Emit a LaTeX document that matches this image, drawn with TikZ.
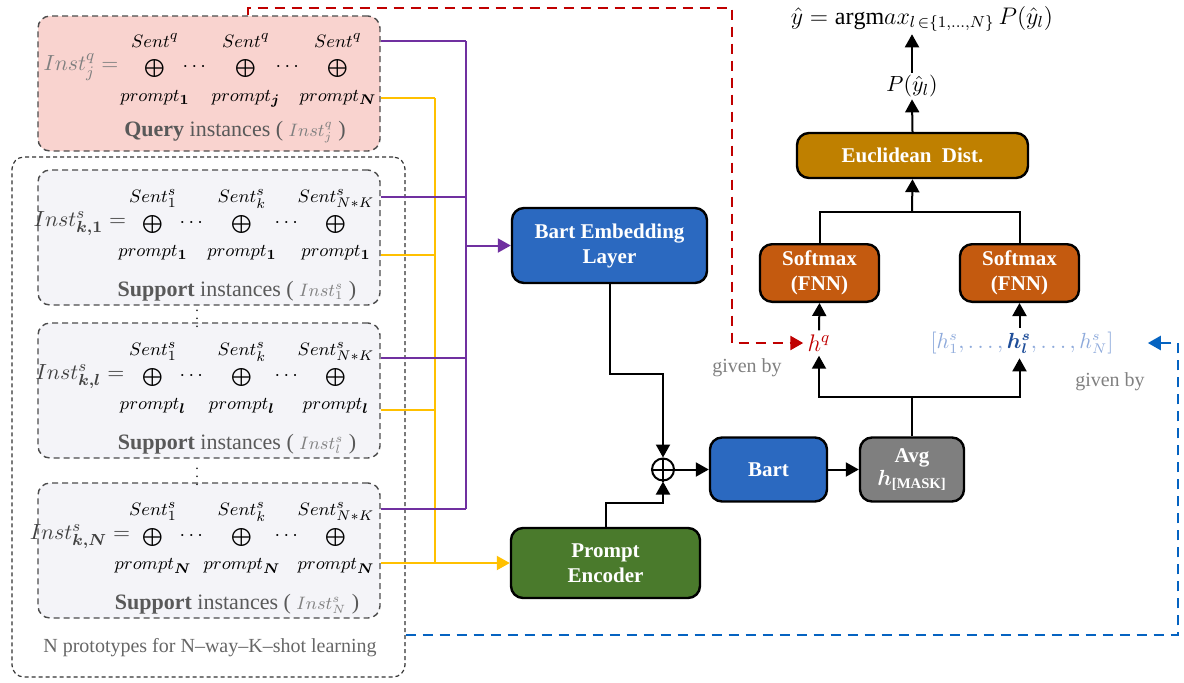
\documentclass[tikz,border=0pt]{standalone}
\usepackage{amsmath}
\usepackage{bm}
\usepackage{fontspec}
\setmainfont{Liberation Serif}
\usetikzlibrary{arrows.meta,calc}
\definecolor{qpink}{HTML}{F9D3CF}
\definecolor{spale}{HTML}{F4F4F8}
\definecolor{bartblue}{HTML}{2B69C0}
\definecolor{pgreen}{HTML}{4A7A2C}
\definecolor{smorange}{HTML}{C45A0F}
\definecolor{eugold}{HTML}{BF8000}
\definecolor{avggray}{HTML}{7F7F7F}
\definecolor{lpurple}{HTML}{7030A0}
\definecolor{lyellow}{HTML}{FFC000}
\definecolor{dred}{HTML}{C00000}
\definecolor{dblue}{HTML}{0563C1}
\definecolor{hslight}{HTML}{8EAADB}
\definecolor{hsdark}{HTML}{1F4E99}
\definecolor{txtgray}{HTML}{808080}
\newcommand{\sentcat}[2]{\begin{tabular}{@{}c@{}}$#1$\\[2pt]$\bigoplus$\\[3pt]$#2$\end{tabular}}
\newcommand{\capinst}[1]{{\color{txtgray}\fontsize{9}{9}\selectfont$#1$}}
\tikzset{
  blk/.style={draw=black, line width=1.2pt, rounded corners=6pt, text=white,
    font=\fontsize{10.5}{12.5}\selectfont\bfseries, align=center},
  instbox/.style={draw=black!70, line width=0.7pt, dash pattern=on 3pt off 2pt,
    rounded corners=6pt, minimum width=171pt, minimum height=67.5pt},
  cattxt/.style={font=\fontsize{9.5}{11}\selectfont, inner sep=0pt},
  dotstxt/.style={inner sep=0pt},
  insttxt/.style={font=\fontsize{11}{13}\selectfont, text=black!75, inner sep=0pt},
  captxt/.style={font=\fontsize{11}{13}\selectfont, text=black!65, inner sep=1pt},
  wire/.style={line width=1pt},
  arr/.style={wire, -{Triangle[length=6.5pt,width=7pt]}},
  purp/.style={draw=lpurple, line width=1pt},
  yell/.style={draw=lyellow, line width=1pt},
  reddash/.style={draw=dred, line width=1.3pt, dash pattern=on 5pt off 3.5pt,
    -{Triangle[length=6.5pt,width=7pt]}},
  bluedash/.style={draw=dblue, line width=1.3pt, dash pattern=on 5pt off 3.5pt,
    -{Triangle[length=6.5pt,width=7pt]}},
  givenby/.style={font=\fontsize{10}{12}\selectfont, text=txtgray, inner sep=1pt}
}
\begin{document}
\begin{tikzpicture}[x=0.5pt,y=-0.5pt]
\useasboundingbox (0,0) rectangle (1184,682);

% instances
\node[draw=black!80, line width=0.6pt, dash pattern=on 2pt off 1.5pt, rounded corners=6pt,
  minimum width=196.5pt, minimum height=260pt] (protos) at (208.5,417) {};
\node[captxt, text=black!60, font=\fontsize{10}{12}\selectfont] (protolab) at (210,648)
  {N prototypes for N--way--K--shot learning};

\node[instbox, fill=qpink] (qbox) at (209,83.5) {};
\node[insttxt, text=txtgray] (qinst) at (81,67) {$Inst_j^q=$};
\node[cattxt] (q1) at (155,70) {\sentcat{Sent^q}{prompt_{\bm 1}}};
\node[cattxt] (q2) at (246,70) {\sentcat{Sent^q}{prompt_{\bm j}}};
\node[cattxt] (q3) at (338,70) {\sentcat{Sent^q}{prompt_{\bm N}}};
\node[dotstxt] (qd1) at (196,67) {$\cdots$};
\node[dotstxt] (qd2) at (289,67) {$\cdots$};
\node[captxt] (qcap) at (235,132) {\textbf{Query} instances ( \capinst{Inst_j^q} )};

\foreach \nm/\y in {1/237.5, l/390.5, N/550.5} {
  \node[instbox, fill=spale] (sbox\nm) at (209,\y) {};
  \node[insttxt] (sinst\nm) at (80,\y-14) {$Inst^s_{\bm{k,\nm}}=$};
  \node[cattxt] (s\nm a) at (153,\y-12) {\sentcat{Sent^s_1}{prompt_{\bm \nm}}};
  \node[cattxt] (s\nm b) at (242,\y-12) {\sentcat{Sent^s_k}{prompt_{\bm \nm}}};
  \node[cattxt] (s\nm c) at (336,\y-12) {\sentcat{Sent^s_{N*K}}{prompt_{\bm \nm}}};
  \node[dotstxt] (s\nm d1) at (193,\y-14) {$\cdots$};
  \node[dotstxt] (s\nm d2) at (288,\y-14) {$\cdots$};
  \node[captxt] (s\nm cap) at (237,\y+54) {\textbf{Support} instances ( \capinst{Inst_\nm^s} )};
}
\node[dotstxt, font=\scriptsize] (vd1) at (197,313) {$\vdots$};
\node[dotstxt, font=\scriptsize] (vd2) at (197,471) {$\vdots$};

% model blocks
\node[blk, fill=bartblue, minimum width=97.5pt, minimum height=37.5pt] (bel) at (609.5,245.5) {Bart Embedding\\Layer};
\node[blk, fill=pgreen, minimum width=94.5pt, minimum height=35pt] (pe) at (605.5,563) {Prompt\\Encoder};
\node[draw, line width=1pt, circle, inner sep=0pt, minimum size=11pt] (plus) at (663,469.5) {};
\draw[line width=1pt] (plus.north) -- (plus.south) (plus.west) -- (plus.east);
\node[blk, fill=bartblue, minimum width=58.5pt, minimum height=32pt] (bart) at (768.5,469.5) {Bart};
\node[blk, fill=avggray, minimum width=52pt, minimum height=32pt] (avg) at (912,469.5) {Avg\\[-1pt]$\bm{h}_{\textbf{[MASK]}}$};
\node[blk, fill=smorange, minimum width=59.5pt, minimum height=26pt] (sml) at (819.5,273) {Softmax\\(FNN)};
\node[blk, fill=smorange, minimum width=59.5pt, minimum height=26pt] (smr) at (1019.5,273) {Softmax\\(FNN)};
\node[blk, fill=eugold, minimum width=115.5pt, minimum height=22.5pt] (euc) at (912.5,155.5) {Euclidean~ Dist.};

\node[font=\fontsize{12}{14}\selectfont, text=dred, inner sep=2pt] (hq) at (819,343) {$h^q$};
\node[font=\fontsize{10.5}{13}\selectfont, text=hslight, inner sep=2pt] (hs) at (1022,343)
  {$[h_1^s,\ldots,{\color{hsdark}\bm{h}_{\bm l}^{\bm s}},\ldots,h_N^s]$};
\node[font=\fontsize{11}{13}\selectfont, inner sep=1pt] (prob) at (912,86) {$P(\hat{y}_l)$};
\node[font=\fontsize{12}{14}\selectfont, inner sep=1pt] (yhat) at (922,19) {$\hat{y}=\mathrm{argm}ax_{l\,\in\{1,\ldots,N\}}\,P(\hat{y}_l)$};
\node[givenby] (given1) at (747,368) {given by};
\node[givenby] (given2) at (1110,382) {given by};

% purple and yellow feeders
\coordinate (pbus) at (466,0);
\coordinate (ybus) at (435,0);
\draw[purp] (pbus |- 0,41) -- (pbus |- 0,509);
\draw[yell] (ybus |- 0,98) -- (ybus |- 0,563);
\foreach \b/\yp/\yy in {qbox/41/98, sbox1/197/255, sboxl/358/410, sboxN/509/563} {
  \draw[yell] (\b.east |- 0,\yy) -- (ybus |- 0,\yy);
  \draw[purp] (\b.east |- 0,\yp) -- (pbus |- 0,\yp);
}
\draw[purp, -{Triangle[length=6.5pt,width=7pt]}] (pbus |- bel.west) -- (bel.west);
\draw[yell, -{Triangle[length=6.5pt,width=7pt]}] (ybus |- pe.west) -- (pe.west);

% main flow
\draw[arr] (bel.south) -- ++(0,90) -| (plus.north);
\draw[arr] (pe.north) -- ++(0,-24) -| (plus.south);
\draw[arr] (plus.east) -- (bart.west);
\draw[arr] (bart.east) -- (avg.west);
\coordinate (split) at (912,397);
\draw[wire] (avg.north) -- (split);
\draw[arr] (split) -| (hq.south);
\draw[arr] (split) -| (hs.south -| smr.south);
\draw[arr] (hq.north) -- (sml.south);
\draw[arr] (hs.north -| smr.south) -- (smr.south);
\coordinate (join) at (912,212);
\draw[wire] (sml.north) |- (join) -| (smr.north);
\draw[arr] (join) -- (euc.south);
\draw[arr] (euc.north) -- (prob.south);
\draw[arr] (prob.north) -- (prob.north |- yhat.south);

% given by
\coordinate (rturn) at (732,8);
\coordinate (bturn) at (1178,635);
\draw[reddash] (qbox.north -| 248,0) |- (rturn) |- (hq.west);
\draw[bluedash] (protos.east |- bturn) -- (bturn) |- ([xshift=15pt]hs.east);
\end{tikzpicture}
\end{document}
